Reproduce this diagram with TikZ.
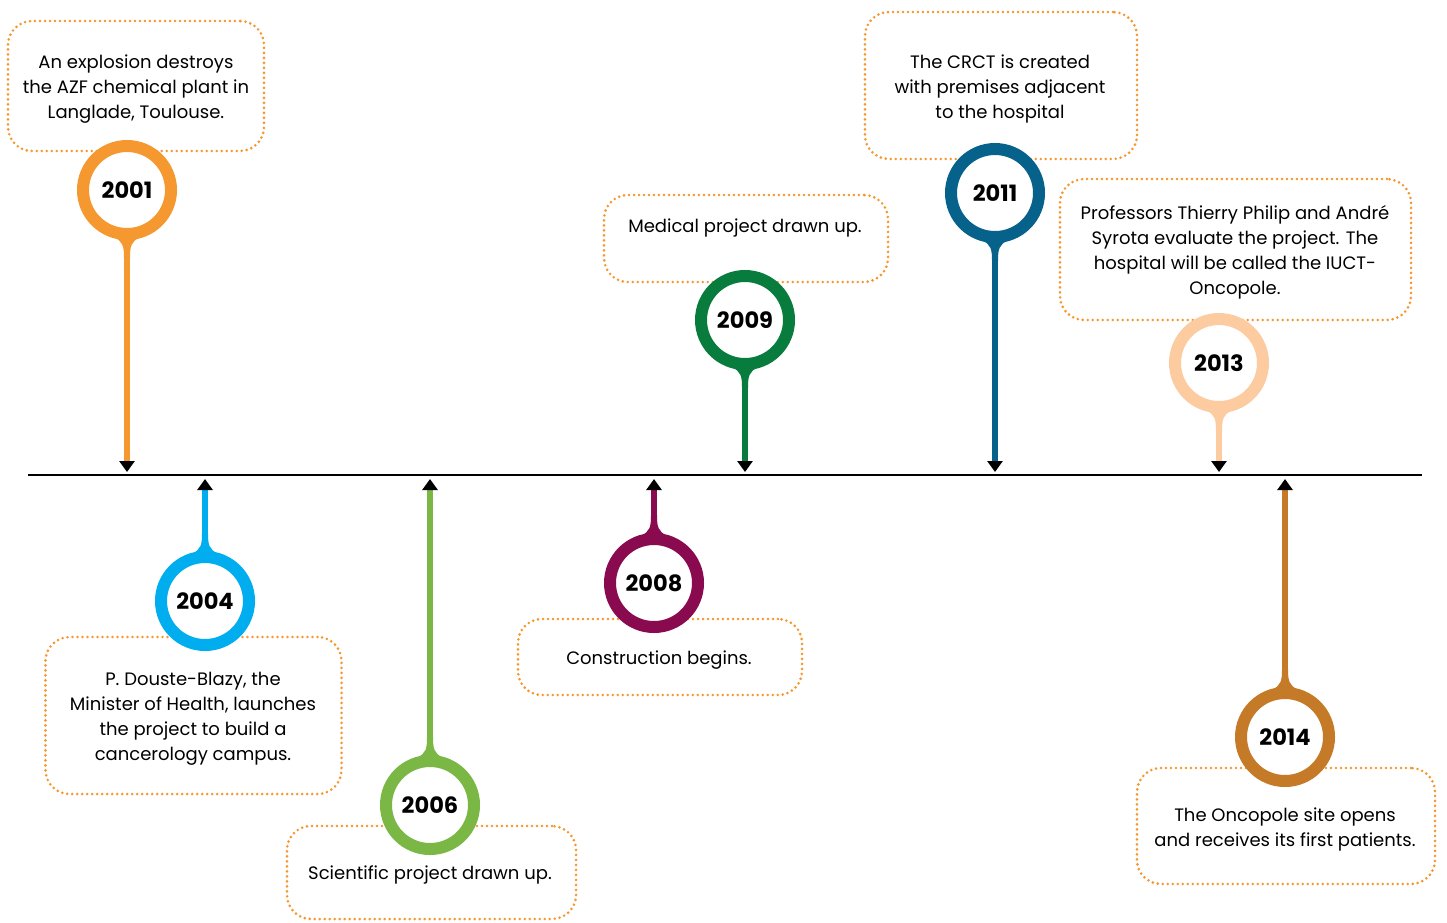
\documentclass[tikz,border=0pt]{standalone}
\usepackage{fontspec}
\setmainfont{Poppins}
\usetikzlibrary{arrows.meta}
\definecolor{boxorange}{HTML}{F7962B}
\definecolor{c2001}{HTML}{F5982F}
\definecolor{c2004}{HTML}{00ADEE}
\definecolor{c2006}{HTML}{7AB744}
\definecolor{c2008}{HTML}{8A0A50}
\definecolor{c2009}{HTML}{087C3C}
\definecolor{c2011}{HTML}{07628B}
\definecolor{c2013}{HTML}{FCCBA0}
\definecolor{c2014}{HTML}{C57A27}
\newcommand{\pinflare}[4]{%
  \fill[#4] ({#1-13},{#2+#3*47}) .. controls ({#1-4},{#2+#3*52}) and ({#1-3},{#2+#3*56}) .. ({#1-3},{#2+#3*68})
    -- ({#1+3},{#2+#3*68}) .. controls ({#1+3},{#2+#3*56}) and ({#1+4},{#2+#3*52}) .. ({#1+13},{#2+#3*47}) -- cycle;}
\tikzset{
  evbox/.style={draw=boxorange, line width=2.9pt, dash pattern=on 0pt off 5pt, line cap=round,
    rounded corners=24pt, inner sep=0pt},
  evtext/.style={align=center, inner sep=0pt, font=\fontsize{18pt}{25pt}\selectfont},
  yearring/.style={circle, draw=#1, line width=12pt, fill=white, minimum size=88pt, inner sep=0pt,
    font=\fontsize{22.5pt}{23pt}\selectfont\bfseries},
  stem/.style={draw=#1, line width=6pt, -{Triangle[length=11pt,width=15pt,black]}},
  axisline/.style={draw=black, line width=1.5pt}
}
\begin{document}
\begin{tikzpicture}[x=1pt,y=-1pt]
\useasboundingbox[fill=white] (0,0) rectangle (1447,922);
% axis
\coordinate (axL) at (28,475);
\coordinate (axR) at (1422,475);
\draw[axisline] (axL) -- (axR);
% boxes
\node[evbox, minimum width=256pt, minimum height=130pt] (b2001) at (136,86) {};
\node[evbox, minimum width=296pt, minimum height=157pt] (b2004) at (193.5,715.5) {};
\node[evbox, minimum width=289pt, minimum height=93pt] (b2006) at (431.5,872.5) {};
\node[evbox, minimum width=284pt, minimum height=76pt] (b2008) at (660,657) {};
\node[evbox, minimum width=284pt, minimum height=87pt] (b2009) at (746,238.5) {};
\node[evbox, minimum width=272pt, minimum height=147pt] (b2011) at (1001,85.5) {};
\node[evbox, minimum width=351pt, minimum height=141pt] (b2013) at (1235.5,249.5) {};
\node[evbox, minimum width=298pt, minimum height=116pt] (b2014) at (1286,826) {};
% texts
\node[evtext] (t2001) at (136,89) {An explosion destroys\\the AZF chemical plant in\\Langlade, Toulouse.};
\node[evtext] (t2004) at (193,719) {P. Douste-Blazy, the\\Minister of Health, launches\\the project to build a\\cancerology campus.};
\node[evtext] (t2006) at (430,875) {Scientific project drawn up.};
\node[evtext] (t2008) at (659,660) {Construction begins.};
\node[evtext] (t2009) at (745,228) {Medical project drawn up.};
\node[evtext] (t2011) at (1000,89) {The CRCT is created\\with premises adjacent\\to the hospital};
\node[evtext] (t2013) at (1235,252) {Professors Thierry Philip and André\\Syrota evaluate the project. The\\hospital will be called the IUCT-\\Oncopole.};
\node[evtext] (t2014) at (1285,829) {The Oncopole site opens\\and receives its first patients.};
% axis targets
\coordinate (a2001) at (127,472);
\coordinate (a2004) at (205,479);
\coordinate (a2006) at (430,479);
\coordinate (a2008) at (654,479);
\coordinate (a2009) at (745,472);
\coordinate (a2011) at (995,472);
\coordinate (a2013) at (1219,472);
\coordinate (a2014) at (1285,479);
% flares
\pinflare{127}{190}{1}{c2001}
\pinflare{205}{601}{-1}{c2004}
\pinflare{430}{805}{-1}{c2006}
\pinflare{654}{583}{-1}{c2008}
\pinflare{745}{320}{1}{c2009}
\pinflare{995}{193}{1}{c2011}
\pinflare{1219}{363}{1}{c2013}
\pinflare{1285}{737}{-1}{c2014}
% rings
\node[yearring=c2001] (p2001) at (127,190) {2001};
\node[yearring=c2004] (p2004) at (205,601) {2004};
\node[yearring=c2006] (p2006) at (430,805) {2006};
\node[yearring=c2008] (p2008) at (654,583) {2008};
\node[yearring=c2009] (p2009) at (745,320) {2009};
\node[yearring=c2011] (p2011) at (995,193) {2011};
\node[yearring=c2013] (p2013) at (1219,363) {2013};
\node[yearring=c2014] (p2014) at (1285,737) {2014};
% stems
\draw[stem=c2001] (p2001.south) -- (a2001);
\draw[stem=c2004] (p2004.north) -- (a2004);
\draw[stem=c2006] (p2006.north) -- (a2006);
\draw[stem=c2008] (p2008.north) -- (a2008);
\draw[stem=c2009] (p2009.south) -- (a2009);
\draw[stem=c2011] (p2011.south) -- (a2011);
\draw[stem=c2013] (p2013.south) -- (a2013);
\draw[stem=c2014] (p2014.north) -- (a2014);
\end{tikzpicture}
\end{document}
